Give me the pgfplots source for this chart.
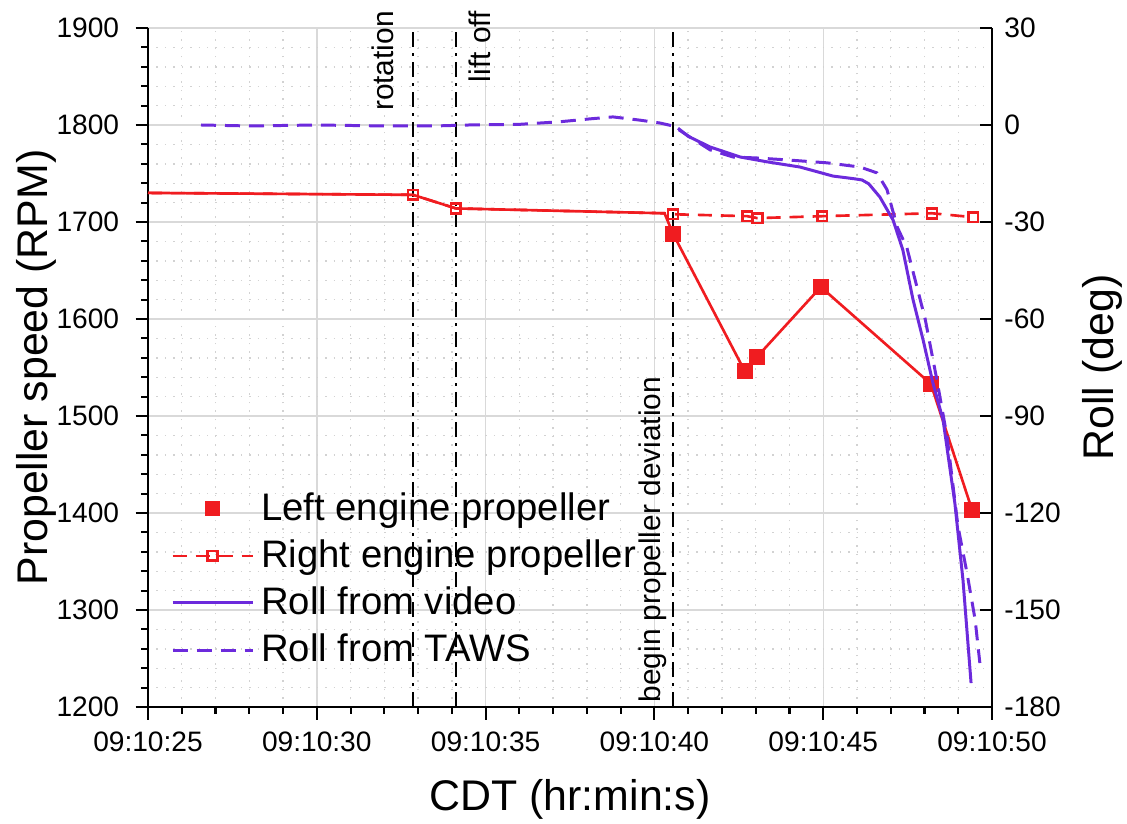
\documentclass[border=0pt]{standalone}
\usepackage{fontspec}
\setmainfont{Liberation Sans}
\usepackage{pgfplots}
\pgfplotsset{compat=1.18}
\definecolor{rpmred}{RGB}{240,28,32}
\definecolor{rollpurple}{RGB}{108,42,220}
\newcommand\labfont{\fontsize{12.2}{15}\selectfont}
\begin{document}
\begin{tikzpicture}
% page frame, 1 px of the reference = 0.1 mm
\path (-14.8mm,-11.6mm) rectangle (97.9mm,70.7mm);
\pgfplotsset{
  twin/.style={
    width=84.4mm, height=67.9mm, scale only axis,
    at={(0,0)}, anchor=south west,
    xmin=25, xmax=50,
    tick label style={font=\fontsize{8}{9.6}\selectfont},
    /pgf/number format/assume math mode=true,
    /pgf/number format/1000 sep={},
    axis line style={line width=0.6pt},
    every tick/.style={black, line width=0.6pt},
    major tick length=1.25mm, minor tick length=0.65mm,
    legend image code/.code={\draw[mark repeat=2,mark phase=2] plot coordinates {(0mm,0mm) (4mm,0mm) (8mm,0mm)};},
  }
}
\begin{axis}[twin,
  ymin=1200, ymax=1900,
  axis x line*=bottom, axis y line*=left,
  tick align=outside,
  xtick={25,30,35,40,45,50},
  xticklabels={09:10:25,09:10:30,09:10:35,09:10:40,09:10:45,09:10:50},
  minor x tick num=4,
  ytick={1200,1300,...,1900}, minor y tick num=4,
  yticklabel style={xshift=-0.4mm},
  grid=both,
  major grid style={gray!30, line width=0.4pt},
  minor grid style={gray!35, dotted, line width=0.4pt},
  xlabel={CDT (hr:min:s)}, ylabel={Propeller speed (RPM)},
  every axis x label/.style={at={(axis description cs:0.5,0)}, yshift=-9.2mm, anchor=center, inner sep=0pt, font=\labfont},
  every axis y label/.style={at={(axis description cs:0,0.5)}, xshift=-11.2mm, rotate=90, anchor=center, inner sep=0pt, font=\labfont},
  clip=false,
]
% event lines
\addplot[black, line width=0.7pt, dash pattern=on 1.5mm off 0.6mm on 0.3mm off 0.6mm] coordinates {(32.85,1200) (32.85,1900)};
\addplot[black, line width=0.7pt, dash pattern=on 1.5mm off 0.6mm on 0.3mm off 0.6mm] coordinates {(34.12,1200) (34.12,1900)};
\addplot[black, line width=0.7pt, dash pattern=on 1.5mm off 0.6mm on 0.3mm off 0.6mm] coordinates {(40.55,1200) (40.55,1900)};
\node[xshift=-2mm, rotate=90, anchor=base east, inner sep=0pt, font=\fontsize{8.5}{10}\selectfont] at (axis cs:32.85,1918) {rotation};
\node[xshift=1.2mm, rotate=90, anchor=north east, inner sep=0pt, font=\fontsize{8.5}{10}\selectfont] at (axis cs:34.12,1918) {lift off};
\node[xshift=-1.2mm, rotate=90, anchor=base west, inner sep=0pt, font=\fontsize{8.5}{10}\selectfont] at (axis cs:40.55,1204) {begin propeller deviation};
% left engine propeller
\addplot[rpmred, line width=0.75pt, mark=square*, mark size=1.9pt, mark indices={5,6,7,8,9,10}] coordinates {
  (25,1730) (32.85,1728) (34.12,1714) (40.3,1709) (40.55,1688)
  (42.68,1546) (43.04,1561) (44.93,1633) (48.19,1533) (49.41,1403)};
% right engine propeller
\addplot[rpmred, line width=0.75pt, dash pattern=on 1.4mm off 0.9mm, mark=square, mark size=1.4pt,
  mark options={solid, fill=white}, mark indices={2,3,5,6,7,8,9,10}] coordinates {
  (25,1730) (32.85,1728) (34.12,1714) (40.3,1709) (40.55,1708)
  (42.75,1706) (43.05,1704) (44.97,1706) (48.22,1709) (49.44,1705)};
\end{axis}
\begin{axis}[twin,
  ymin=-180, ymax=30,
  axis y line*=right, axis x line=none,
  tick align=inside,
  ytick={-180,-150,...,30},
  ylabel={Roll (deg)},
  every axis y label/.style={at={(axis description cs:1,0.5)}, xshift=11mm, rotate=90, anchor=center, inner sep=0pt, font=\labfont},
  legend style={at={(0.014,0.338)}, anchor=north west, draw=none, fill=none,
    font=\fontsize{10.9}{13}\selectfont, row sep=0pt},
  legend cell align=left,
]
\addlegendimage{rpmred, only marks, mark=square*, mark size=1.9pt}
\addlegendimage{rpmred, line width=0.75pt, dash pattern=on 1.4mm off 0.9mm, mark=square, mark size=1.4pt, mark options={solid, fill=white}}
% roll from video
\addplot[rollpurple, line width=0.85pt] coordinates {
  (40.7,-1) (41.0,-3.5) (41.65,-6.8) (42.54,-9.9) (43.34,-11.4) (44.31,-13)
  (45.29,-15.8) (45.9,-16.6) (46.15,-17.0) (46.35,-18.2) (46.68,-22.3) (47.07,-29.4)
  (47.36,-38.7) (47.66,-54) (47.96,-66.5) (48.25,-79.8) (48.55,-91.2)
  (48.90,-117) (49.14,-140.7) (49.38,-172.6)};
% roll from TAWS
\addplot[rollpurple, line width=0.85pt, dash pattern=on 1.5mm off 0.9mm] coordinates {
  (26.57,0) (28,-0.3) (30,0) (32,-0.3) (33.5,-0.3) (34.5,0) (36,0.2)
  (37.2,1) (38.1,1.9) (38.77,2.5) (39.57,1.5) (40.17,0.6) (40.55,-0.3)
  (41.05,-3.7) (41.65,-7.7) (42.33,-9.9) (43.04,-10.2) (43.93,-10.8)
  (45.11,-11.7) (46.09,-13) (46.59,-14.8) (46.89,-20) (47.19,-31.5)
  (47.48,-38) (48.02,-60) (48.37,-79) (48.67,-96.5) (48.99,-124)
  (49.26,-138.6) (49.50,-153) (49.64,-166.4)};
\legend{Left engine propeller, Right engine propeller, Roll from video, Roll from TAWS}
\end{axis}
\end{tikzpicture}
\end{document}
